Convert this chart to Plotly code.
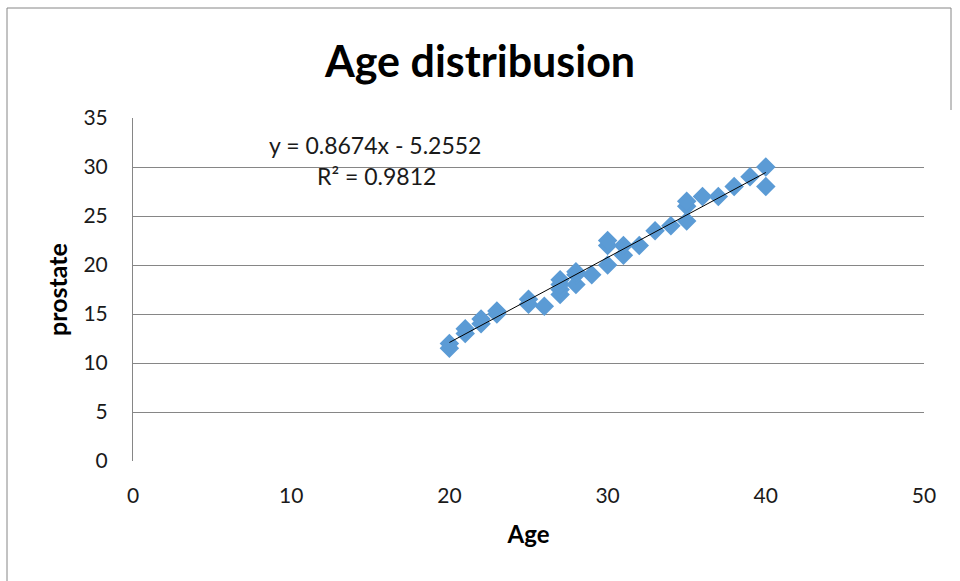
import plotly.graph_objects as go
import numpy as np

age = [20, 20, 21, 21, 22, 22, 23, 23, 25, 25, 26, 27, 27, 27, 27, 28, 28, 28, 29,
       30, 30, 30, 31, 31, 32, 33, 34, 35, 35, 35, 36, 37, 38, 39, 40, 40]
prostate = [11.5, 12, 13, 13.5, 14, 14.5, 15, 15.3, 16, 16.5, 15.8, 17, 17.5, 18, 18.5,
            18, 19, 19.3, 19, 20, 22, 22.5, 21, 22, 22, 23.5, 24, 24.5, 26, 26.5,
            27, 27, 28, 29, 30, 28]
slope = 0.8674
intercept = -5.2552
r2 = 0.9812
x_ticks = [0, 10, 20, 30, 40, 50]
y_ticks = [0, 5, 10, 15, 20, 25, 30, 35]

FONT = "Lato"
fig = go.Figure()
fig.add_trace(go.Scatter(
    x=age, y=prostate, mode="markers",
    marker=dict(symbol="diamond", size=15, color="#5b9bd5", line=dict(width=0)),
    showlegend=False, hoverinfo="skip"))
tx = np.array([min(age), max(age)])
fig.add_trace(go.Scatter(
    x=tx, y=slope * tx + intercept, mode="lines",
    line=dict(color="black", width=1), showlegend=False, hoverinfo="skip"))


def px_x(p):
    return (p - 133) / 791


def px_y(p):
    return (461 - p) / 343


fig.update_layout(
    width=960, height=581,
    margin=dict(l=133, r=36, t=118, b=120),
    paper_bgcolor="white", plot_bgcolor="white",
    font=dict(family=FONT, color="#000000"),
    title=dict(text="<b>Age distribusion</b>", x=0.5, xanchor="center",
               y=1 - 62 / 581, yanchor="middle", yref="container",
               font=dict(family=FONT, size=43, color="black")),
    xaxis=dict(range=[0, 50], tickvals=x_ticks, showgrid=False, zeroline=False,
               showline=False, ticks="", ticklabelstandoff=20,
               tickfont=dict(size=21, color="#1a1a1a"),
               title=dict(text="<b>Age</b>", font=dict(size=24), standoff=20)),
    yaxis=dict(range=[0, 35], tickvals=y_ticks, showgrid=True, gridcolor="#868686",
               gridwidth=1, zeroline=False, showline=True, linecolor="#868686",
               linewidth=1, ticks="", ticklabelstandoff=20,
               tickfont=dict(size=21, color="#1a1a1a"),
               title=dict(text="<b>prostate</b>", font=dict(size=25), standoff=8)),
    annotations=[
        dict(text="y = 0.8674x - 5.2552", xref="paper", yref="paper",
             x=px_x(375), y=px_y(145), showarrow=False,
             font=dict(size=23, color="#1a1a1a"), xanchor="center", yanchor="middle"),
        dict(text="R² = 0.9812", xref="paper", yref="paper",
             x=px_x(376), y=px_y(176), showarrow=False,
             font=dict(size=23, color="#1a1a1a"), xanchor="center", yanchor="middle"),
    ],
)
fig.add_shape(type="line", xref="paper", yref="paper", x0=px_x(7), x1=px_x(951),
              y0=px_y(8), y1=px_y(8), line=dict(color="#868686", width=1))
fig.add_shape(type="line", xref="paper", yref="paper", x0=px_x(7), x1=px_x(7),
              y0=px_y(8), y1=px_y(581), line=dict(color="#868686", width=1))
fig.add_shape(type="line", xref="paper", yref="paper", x0=px_x(951), x1=px_x(951),
              y0=px_y(8), y1=px_y(110), line=dict(color="#868686", width=1))

fig.write_html("out.html")
